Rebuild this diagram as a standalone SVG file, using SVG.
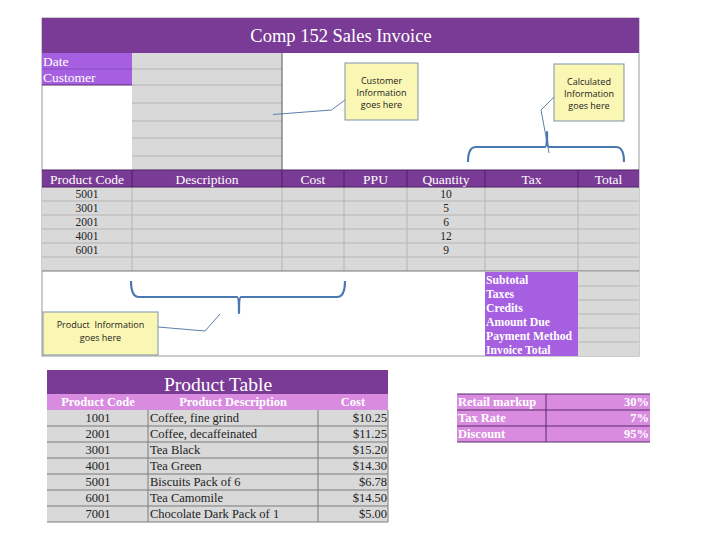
<svg xmlns="http://www.w3.org/2000/svg" width="720" height="540" viewBox="0 0 720 540">
<style>
.ser{font-family:"Liberation Serif","DejaVu Serif",serif}
.hdr{font-family:"Liberation Serif",serif;font-size:13.5px;fill:#fff;text-anchor:middle}
.dat{font-family:"Liberation Serif",serif;font-size:11.5px;fill:#222;text-anchor:middle}
.lbl{font-family:"Liberation Serif",serif;font-size:11.7px;fill:#fff;font-weight:bold}
.gray{fill:#d9d9d9}
.gl{stroke:#b5b5b5;stroke-width:1;fill:none}
.purple{fill:#7a3b96}
.violet{fill:#a55fe0}
.pink{fill:#d98be0}
.note{fill:#faf6b3;stroke:#7d93ab;stroke-width:1}
.nt{font-family:"Open Sans","Liberation Sans",sans-serif;font-size:9px;fill:#222;text-anchor:middle}
.lead{stroke:#5b80aa;stroke-width:1;fill:none}
.brace{stroke:#4a78b0;stroke-width:2.2;fill:none;stroke-linejoin:round}
.pt{font-family:"Liberation Serif",serif;font-size:12.5px;fill:#222}
.pth{font-family:"Liberation Serif",serif;font-size:12.5px;fill:#fff;font-weight:bold;text-anchor:middle}
</style>

<g id="invoice-frame">
<rect x="42" y="18" width="597" height="338" fill="#fff" stroke="#9a9a9a" stroke-width="1"/>
</g>

<g id="title-bar">
<rect class="purple" x="42" y="18" width="597" height="35"/>
<text class="ser" x="341" y="42" font-size="18.5" fill="#fff" text-anchor="middle">Comp 152 Sales Invoice</text>
</g>

<g id="customer-block">
<rect class="violet" x="42" y="53" width="90" height="32"/>
<line x1="42" y1="69" x2="132" y2="69" stroke="#8a4cc0" stroke-width="1"/>
<line x1="42" y1="85" x2="132" y2="85" stroke="#5a2a70" stroke-width="1"/>
<text class="ser" x="43" y="65.5" font-size="13.5" fill="#fff">Date</text>
<text class="ser" x="43" y="82" font-size="13.5" fill="#fff">Customer</text>
<rect class="gray" x="132" y="53" width="150" height="117"/>
<path class="gl" d="M132 69H282M132 85H282M132 103H282M132 121H282M132 138H282M132 156H282"/>
<line x1="282" y1="53" x2="282" y2="170" stroke="#555" stroke-width="1"/>
</g>

<g id="line-items">
<rect class="gray" x="42" y="187" width="597" height="84"/>
<path class="gl" d="M42 201H639M42 215H639M42 229H639M42 243H639M42 257H639M132 187V271M282 187V271M344 187V271M407 187V271M485 187V271M578 187V271"/>
<line x1="42" y1="271" x2="639" y2="271" stroke="#777" stroke-width="1"/>
<rect class="purple" x="42" y="170" width="597" height="17"/>
<path d="M132 170V187M282 170V187M344 170V187M407 170V187M485 170V187M578 170V187M42 170H639M42 187H639" stroke="#4e1f62" stroke-width="1" fill="none"/>
<text class="hdr" x="87" y="183.5">Product Code</text>
<text class="hdr" x="207" y="183.5">Description</text>
<text class="hdr" x="313" y="183.5">Cost</text>
<text class="hdr" x="375.5" y="183.5">PPU</text>
<text class="hdr" x="446" y="183.5">Quantity</text>
<text class="hdr" x="531.5" y="183.5">Tax</text>
<text class="hdr" x="608.5" y="183.5">Total</text>
<text class="dat" x="87" y="198">5001</text>
<text class="dat" x="87" y="212">3001</text>
<text class="dat" x="87" y="226">2001</text>
<text class="dat" x="87" y="240">4001</text>
<text class="dat" x="87" y="254">6001</text>
<text class="dat" x="446" y="198">10</text>
<text class="dat" x="446" y="212">5</text>
<text class="dat" x="446" y="226">6</text>
<text class="dat" x="446" y="240">12</text>
<text class="dat" x="446" y="254">9</text>
</g>

<g id="summary">
<rect class="violet" x="485" y="272" width="93" height="84"/>
<rect class="gray" x="578" y="272" width="61" height="84"/>
<path class="gl" d="M578 286H639M578 300H639M578 314H639M578 328H639M578 342H639"/>
<text class="lbl" x="486" y="284">Subtotal</text>
<text class="lbl" x="486" y="298">Taxes</text>
<text class="lbl" x="486" y="312">Credits</text>
<text class="lbl" x="486" y="326">Amount Due</text>
<text class="lbl" x="486" y="340">Payment Method</text>
<text class="lbl" x="486" y="354">Invoice Total</text>
</g>

<g id="connectors">
<polyline class="lead" points="273,114.5 331.5,110 345,100"/>
<polyline class="lead" points="554,97 541,110 549,153"/>
<polyline class="lead" points="158,327 205,331 220,314"/>
<path class="brace" d="M468 162Q468 147 476 147H545Q547 147 547 132Q547 147 549 147H616Q624 147 624 162"/>
<path class="brace" d="M131 281Q131 297 139 297H237Q239 297 239 313Q239 297 241 297H337Q345 297 345 281"/>
</g>

<g id="note-customer">
<rect class="note" x="345" y="63" width="73" height="57"/>
<text class="nt" x="381.5" y="84">Customer</text>
<text class="nt" x="381.5" y="96">Information</text>
<text class="nt" x="381.5" y="108">goes here</text>
</g>

<g id="note-calculated">
<rect class="note" x="554" y="64" width="70" height="57"/>
<text class="nt" x="589" y="85">Calculated</text>
<text class="nt" x="589" y="97">Information</text>
<text class="nt" x="589" y="109">goes here</text>
</g>

<g id="note-product">
<rect class="note" x="43" y="312" width="115" height="43"/>
<text class="nt" x="100.5" y="328" xml:space="preserve">Product  Information</text>
<text class="nt" x="100.5" y="341">goes here</text>
</g>

<g id="product-table">
<rect class="purple" x="47" y="370" width="341" height="24"/>
<text class="ser" x="218" y="391" font-size="19.5" fill="#fff" text-anchor="middle">Product Table</text>
<rect class="pink" x="47" y="394" width="341" height="16"/>
<text class="pth" x="98" y="406">Product Code</text>
<text class="pth" x="233" y="406">Product Description</text>
<text class="pth" x="353" y="406">Cost</text>
<rect class="gray" x="47" y="410" width="341" height="112"/>
<path d="M47 426H388M47 442H388M47 458H388M47 474H388M47 490H388M47 506H388M47 522H388M148 410V522M318 410V522M388 410V522" stroke="#7a7a7a" stroke-width="1" fill="none"/>
<g class="pt" text-anchor="middle">
<text x="98" y="422">1001</text>
<text x="98" y="438">2001</text>
<text x="98" y="454">3001</text>
<text x="98" y="470">4001</text>
<text x="98" y="486">5001</text>
<text x="98" y="502">6001</text>
<text x="98" y="518">7001</text>
</g>
<g class="pt">
<text x="150" y="422">Coffee, fine grind</text>
<text x="150" y="438">Coffee, decaffeinated</text>
<text x="150" y="454">Tea Black</text>
<text x="150" y="470">Tea Green</text>
<text x="150" y="486">Biscuits Pack of 6</text>
<text x="150" y="502">Tea Camomile</text>
<text x="150" y="518">Chocolate Dark Pack of 1</text>
</g>
<g class="pt" text-anchor="end">
<text x="387" y="422">$10.25</text>
<text x="387" y="438">$11.25</text>
<text x="387" y="454">$15.20</text>
<text x="387" y="470">$14.30</text>
<text x="387" y="486">$6.78</text>
<text x="387" y="502">$14.50</text>
<text x="387" y="518">$5.00</text>
</g>
</g>

<g id="rates-table">
<rect class="pink" x="457" y="394" width="193" height="48"/>
<path d="M457 394H650M457 410H650M457 426H650M457 442H650M546 394V442" stroke="#5a2a6a" stroke-width="1" fill="none"/>
<g class="ser" font-size="12.5" font-weight="bold" fill="#fff">
<text x="458" y="406">Retail markup</text>
<text x="458" y="422">Tax Rate</text>
<text x="458" y="438">Discount</text>
<text x="649" y="406" text-anchor="end">30%</text>
<text x="649" y="422" text-anchor="end">7%</text>
<text x="649" y="438" text-anchor="end">95%</text>
</g>
</g>
</svg>
